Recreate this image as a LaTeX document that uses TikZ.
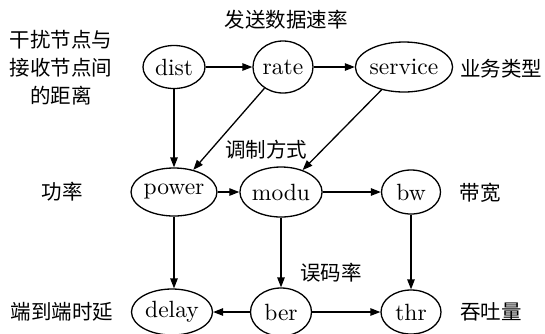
\documentclass[tikz,border=0pt]{standalone}
\usepackage{fontspec}
\newfontfamily\cjk{Noto Sans CJK SC}
\newfontfamily\lmten{lmroman10-regular.otf}
\usetikzlibrary{shapes.geometric,arrows.meta}
\begin{document}
\begin{tikzpicture}[x=1pt,y=-1pt,
  nd/.style={draw,ellipse,line width=1.3pt,inner sep=0pt,font=\lmten\fontsize{23.5}{28}\selectfont},
  lbl/.style={font=\cjk\fontsize{20.5}{28}\selectfont,inner sep=0pt,align=center},
  arr/.style={-{Triangle[length=10pt,width=7.5pt]},line width=1.3pt}]
\useasboundingbox (0,0) rectangle (545,333);
% nodes
\node[nd,minimum width=62pt,minimum height=43pt] (dist) at (174,67) {dist};
\node[nd,minimum width=60pt,minimum height=52pt] (rate) at (283,67) {rate};
\node[nd,minimum width=80pt,minimum height=50pt] (service) at (404,67) {service};
\node[nd,minimum width=75pt,minimum height=48pt] (power) at (174,192) {power};
\node[nd,minimum width=81pt,minimum height=50pt] (modu) at (281,192) {modu};
\node[nd,minimum width=59pt,minimum height=44pt] (bw) at (411,192) {bw};
\node[nd,minimum width=81pt,minimum height=46pt] (delay) at (172,312) {delay};
\node[nd,minimum width=61pt,minimum height=48pt] (ber) at (281,312) {ber};
\node[nd,minimum width=60pt,minimum height=44pt] (thr) at (411,312) {thr};
% labels
\node[lbl] (l1) at (286,20) {发送数据速率};
\node[lbl] (l2) at (61,68) {干扰节点与\\接收节点间\\的距离};
\node[lbl] (l3) at (501,69) {业务类型};
\node[lbl] (l4) at (266,150) {调制方式};
\node[lbl] (l5) at (62,192) {功率};
\node[lbl] (l6) at (480,193) {带宽};
\node[lbl] (l7) at (331,273) {误码率};
\node[lbl] (l8) at (62,312) {端到端时延};
\node[lbl] (l9) at (491,312) {吞吐量};
% edges
\draw[arr] (dist) -- (rate);
\draw[arr] (rate) -- (service);
\draw[arr] (dist.south) -- (power.north);
\draw[arr] (rate) -- (power);
\draw[arr] (service) -- (modu);
\draw[arr] (power) -- (modu);
\draw[arr] (modu) -- (bw);
\draw[arr] (power.south) -- (delay.north -| power.south);
\draw[arr] (modu) -- (ber);
\draw[arr] (bw) -- (thr);
\draw[arr] (ber) -- (delay);
\draw[arr] (ber) -- (thr);
\end{tikzpicture}
\end{document}
